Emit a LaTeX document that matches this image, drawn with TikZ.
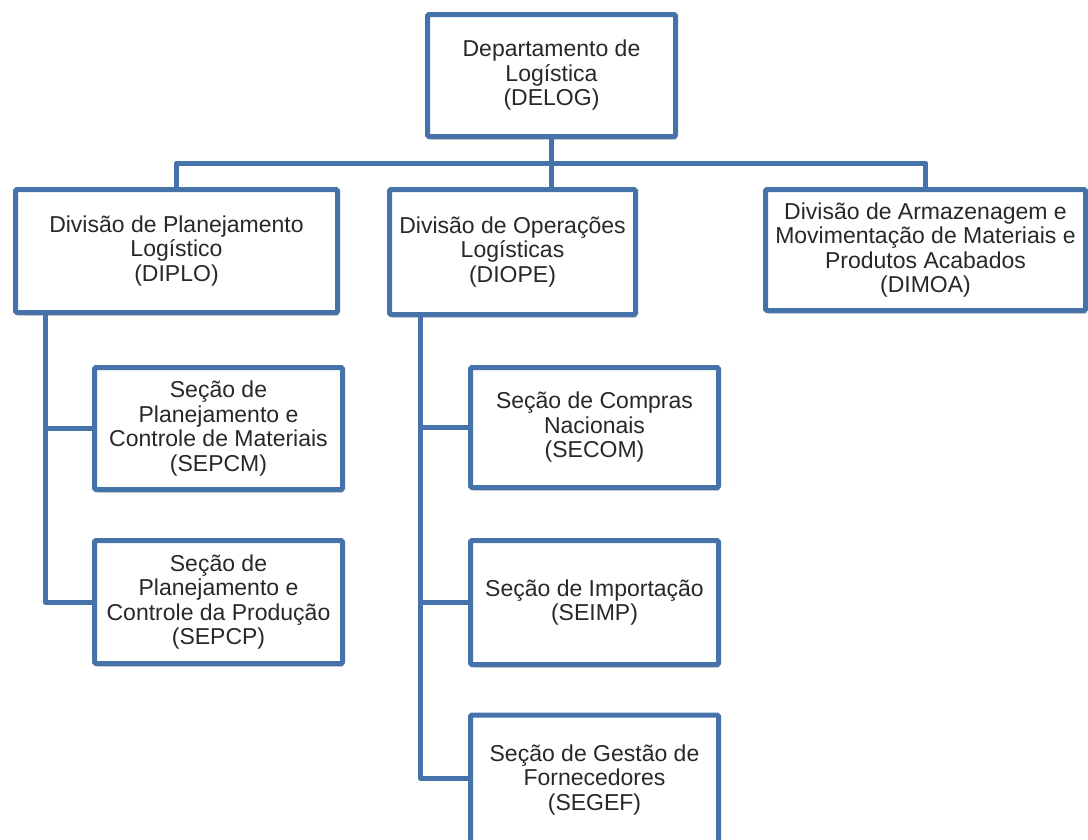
\documentclass[tikz,border=0pt]{standalone}
\usepackage{fontspec}
\setmainfont{Liberation Sans}
\usetikzlibrary{shadows}
\definecolor{orgblue}{RGB}{70,114,170}
\definecolor{orgtext}{RGB}{40,40,40}
\begin{document}
\begin{tikzpicture}[x=1pt,y=-1pt,
  unit/.style={rectangle, draw=orgblue, line width=5pt, fill=white,
    rounded corners=1.5pt, inner sep=0pt, align=center, text=orgtext,
    font=\fontsize{23}{24.5}\selectfont,
    drop shadow={shadow xshift=1.5pt, shadow yshift=-3pt, opacity=0.35, fill=black!70}},
  link/.style={draw=orgblue, line width=5pt, line join=round}]
\clip (0,0) rectangle (1088,839);

% department
\node[unit, minimum width=248pt, minimum height=122pt] (delog) at (551.5,75.5)
  {Departamento de\\Logística\\(DELOG)};

% divisions
\node[unit, minimum width=322pt, minimum height=123pt] (diplo) at (176.5,251)
  {Divisão de Planejamento\\Logístico\\(DIPLO)};
\node[unit, minimum width=246pt, minimum height=125pt] (diope) at (512.5,252)
  {Divisão de Operações\\Logísticas\\(DIOPE)};
\node[unit, minimum width=320pt, minimum height=121pt] (dimoa) at (925.5,250)
  {Divisão de Armazenagem e\\Movimentação de Materiais e\\Produtos Acabados\\(DIMOA)};

% sections under DIPLO
\node[unit, minimum width=248pt, minimum height=122pt] (sepcm) at (218.5,428.5)
  {Seção de\\Planejamento e\\Controle de Materiais\\(SEPCM)};
\node[unit, minimum width=248pt, minimum height=123pt] (sepcp) at (218.5,602)
  {Seção de\\Planejamento e\\Controle da Produção\\(SEPCP)};

% sections under DIOPE
\node[unit, minimum width=248pt, minimum height=120pt] (secom) at (594.5,427.5)
  {Seção de Compras\\Nacionais\\(SECOM)};
\node[unit, minimum width=248pt, minimum height=124pt] (seimp) at (594.5,602.5)
  {Seção de Importação\\(SEIMP)};
\node[unit, minimum width=248pt, minimum height=130pt] (segef) at (594.5,780)
  {Seção de Gestão de\\Fornecedores\\(SEGEF)};

% connectors
\coordinate (bus) at (553,163);
\draw[link] (diplo.north) |- (bus) -| (dimoa.north);
\draw[link] (delog.south) -- (delog.south |- diope.north);

\coordinate (dl) at ([xshift=32.5pt]diplo.south west);
\draw[link] (dl) |- (sepcp.west);
\draw[link] (sepcm.west) -- (sepcm.west -| dl);

\coordinate (dr) at ([xshift=33.5pt]diope.south west);
\draw[link] (dr) |- ([yshift=2pt]segef.west);
\draw[link] (secom.west) -- (secom.west -| dr);
\draw[link] (seimp.west) -- (seimp.west -| dr);
\end{tikzpicture}
\end{document}
